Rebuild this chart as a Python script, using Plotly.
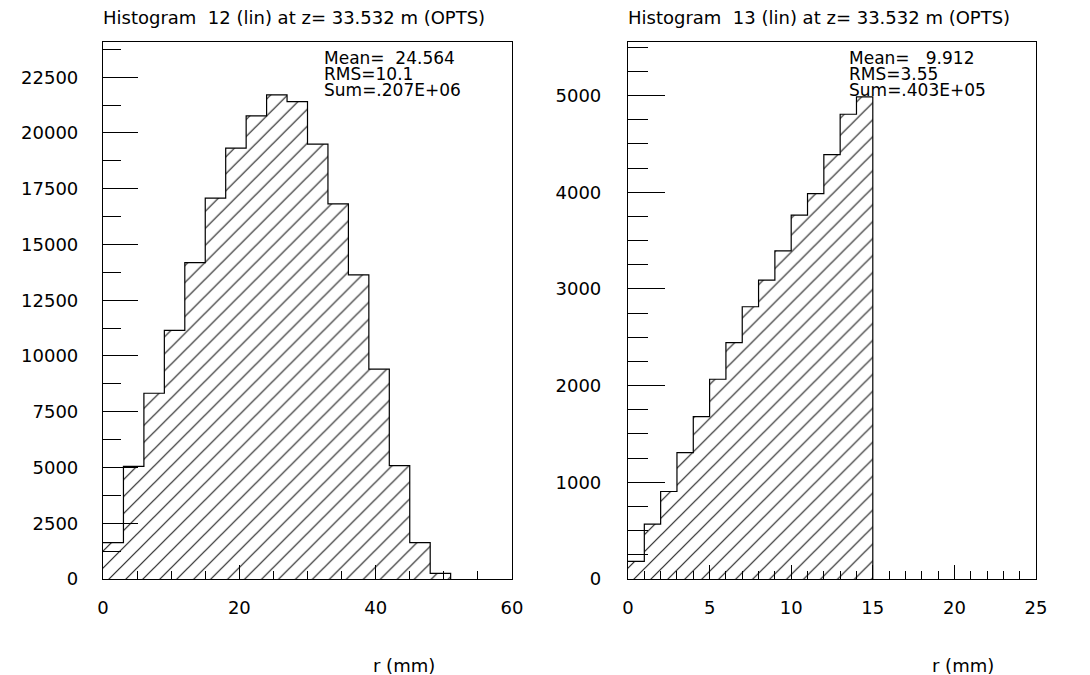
import plotly.graph_objects as go

# ---------------- data ----------------
# Histogram 12: bins of width 3 mm from 0 to 60 mm
h12_bin_width = 3
h12_counts = [1630, 5050, 8330, 11150, 14190, 17080, 19320, 20770, 21710, 21410,
              19500, 16820, 13640, 9410, 5080, 1630, 255, 0, 0, 0]
# Histogram 13: bins of width 1 mm from 0 to 25 mm
h13_bin_width = 1
h13_counts = [182, 568, 905, 1308, 1680, 2066, 2444, 2816, 3092, 3394,
              3763, 3985, 4390, 4807, 4986, 0, 0, 0, 0, 0, 0, 0, 0, 0, 0]

titles = ["Histogram  12 (lin) at z= 33.532 m (OPTS)",
          "Histogram  13 (lin) at z= 33.532 m (OPTS)"]
stats12 = ["Mean=\u00a0\u00a024.564", "RMS=10.1", "Sum=.207E+06"]
stats13 = ["Mean=\u00a0\u00a0\u00a09.912", "RMS=3.55", "Sum=.403E+05"]
xlabel = "r (mm)"


def step_points(counts, width):
    # trim trailing empty bins, close the outline at zero
    n = len(counts)
    while n > 0 and counts[n - 1] == 0:
        n -= 1
    xs = [i * width for i in range(n + 1)]
    ys = list(counts[:n]) + [0]
    return xs, ys


W, H = 1090, 675
FONT = "DejaVu Sans"

fig = go.Figure()

x12, y12 = step_points(h12_counts, h12_bin_width)
x13, y13 = step_points(h13_counts, h13_bin_width)

pattern = dict(shape="/", size=12, solidity=0.1, fgcolor="#222222", bgcolor="white", fillmode="replace")

fig.add_trace(go.Scatter(x=x12, y=y12, mode="lines", line=dict(shape="hv", color="black", width=1.2),
                         fill="tozeroy", fillcolor="white", fillpattern=pattern,
                         xaxis="x", yaxis="y", showlegend=False, hoverinfo="skip"))
fig.add_trace(go.Scatter(x=x13, y=y13, mode="lines", line=dict(shape="hv", color="black", width=1.2),
                         fill="tozeroy", fillcolor="white", fillpattern=pattern,
                         xaxis="x2", yaxis="y2", showlegend=False, hoverinfo="skip"))

# pixel geometry
L1, R1 = 103, 512
L2, R2 = 628, 1036
TOP, BOT = 42, 579


def px(xp):
    return xp / W


def py(yp):
    return 1 - yp / H


tickfont = dict(family=FONT, size=18, color="black")

common = dict(showgrid=False, zeroline=False, showline=True, linecolor="black", linewidth=1.2,
              mirror=True, ticks="inside", tickcolor="black", tickwidth=1.2, tickfont=tickfont,
              automargin=False, tickformat="d")

fig.update_layout(
    template="none",
    width=W, height=H,
    margin=dict(l=0, r=0, t=0, b=0, pad=0),
    paper_bgcolor="white", plot_bgcolor="white",
    showlegend=False,
    xaxis=dict(domain=[px(L1), px(R1)], range=[0, 60], dtick=20, tick0=0, ticklen=14,
               minor=dict(dtick=5, ticklen=8, ticks="inside", tickcolor="black", tickwidth=1.2),
               ticklabelstandoff=12, anchor="y", **common),
    yaxis=dict(domain=[py(BOT), py(TOP)], range=[0, 24080], dtick=2500, tick0=0, ticklen=35,
               minor=dict(dtick=1250, ticklen=18, ticks="inside", tickcolor="black", tickwidth=1.2),
               ticklabelstandoff=20, anchor="x", **common),
    xaxis2=dict(domain=[px(L2), px(R2)], range=[0, 25], dtick=5, tick0=0, ticklen=14,
                minor=dict(dtick=1, ticklen=8, ticks="inside", tickcolor="black", tickwidth=1.2),
                ticklabelstandoff=12, anchor="y2", **common),
    yaxis2=dict(domain=[py(BOT), py(TOP)], range=[0, 5554], dtick=1000, tick0=0, ticklen=37,
                minor=dict(dtick=250, ticklen=20, ticks="inside", tickcolor="black", tickwidth=1.2),
                ticklabelstandoff=22, anchor="x2", **common),
)

ann = []
tfont = dict(family=FONT, size=18, color="black")
sfont = dict(family=FONT, size=17, color="black")
# titles
ann.append(dict(text=titles[0], x=px(101), y=py(18), xref="paper", yref="paper",
                xanchor="left", yanchor="middle", showarrow=False, font=tfont))
ann.append(dict(text=titles[1], x=px(626), y=py(18), xref="paper", yref="paper",
                xanchor="left", yanchor="middle", showarrow=False, font=tfont))
# stats boxes
for i, line in enumerate(stats12):
    ann.append(dict(text=line, x=px(322), y=py(58 + i * 16), xref="paper", yref="paper",
                    xanchor="left", yanchor="middle", showarrow=False, font=sfont))
for i, line in enumerate(stats13):
    ann.append(dict(text=line, x=px(847), y=py(58 + i * 16), xref="paper", yref="paper",
                    xanchor="left", yanchor="middle", showarrow=False, font=sfont))
# x axis labels
ann.append(dict(text=xlabel, x=px(404), y=py(665), xref="paper", yref="paper",
                xanchor="center", yanchor="middle", showarrow=False, font=tfont))
ann.append(dict(text=xlabel, x=px(963), y=py(665), xref="paper", yref="paper",
                xanchor="center", yanchor="middle", showarrow=False, font=tfont))

fig.update_layout(annotations=ann)

fig.write_html("out.html", config={"displayModeBar": False},
               post_script="document.body.style.margin='0px';document.body.style.overflow='hidden';")
